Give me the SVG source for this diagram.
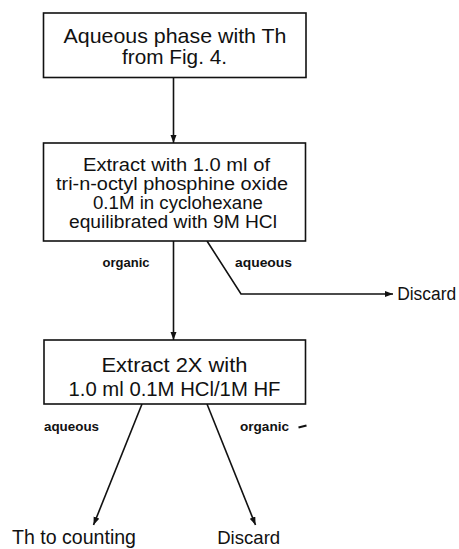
<svg xmlns="http://www.w3.org/2000/svg" width="459" height="549" viewBox="0 0 459 549">
<style>
.box{fill:#fff;stroke:#111;stroke-width:1.6}
.t{font-family:"Liberation Sans",Arial,sans-serif;fill:#111;text-anchor:middle}
.lbl{font-family:"Liberation Sans",Arial,sans-serif;font-weight:bold;font-size:13.3px;fill:#111}
.c{fill:none;stroke:#111;stroke-width:1.6}
</style>
<defs>
<marker id="ah" markerUnits="userSpaceOnUse" markerWidth="9" markerHeight="7" refX="8" refY="3" orient="auto">
<path d="M0,0 L8,3 L0,6 z" fill="#111"/>
</marker>
</defs>
<rect width="459" height="549" fill="#fff"/>
<g id="connectors">
<path class="c" d="M173.5,77.5 V143" marker-end="url(#ah)"/>
<path class="c" d="M173.5,241 V340" marker-end="url(#ah)"/>
<path class="c" d="M207,241 L241,294 H393" marker-end="url(#ah)"/>
<path class="c" d="M142,404 L93.5,525" marker-end="url(#ah)"/>
<path class="c" d="M207,404 L255.5,525" marker-end="url(#ah)"/>
<text class="lbl" x="102.5" y="267" textLength="47" lengthAdjust="spacingAndGlyphs">organic</text>
<text class="lbl" x="235" y="267" textLength="57" lengthAdjust="spacingAndGlyphs">aqueous</text>
<text class="lbl" x="44" y="430.5" textLength="55" lengthAdjust="spacingAndGlyphs">aqueous</text>
<text class="lbl" x="240" y="430.5" textLength="49" lengthAdjust="spacingAndGlyphs">organic</text>
<path d="M298.5,427.5 L306.5,425.5" stroke="#111" stroke-width="2.2" fill="none"/>
</g>
<g id="node-start">
<rect class="box" x="43.5" y="13" width="262.5" height="64.5"/>
<text class="t" x="175" y="43" font-size="21" textLength="223" lengthAdjust="spacingAndGlyphs">Aqueous phase with Th</text>
<text class="t" x="174.5" y="64" font-size="21" textLength="105" lengthAdjust="spacingAndGlyphs">from Fig. 4.</text>
</g>
<g id="node-extract1">
<rect class="box" x="43.5" y="143" width="262" height="98"/>
<text class="t" x="176.5" y="170.7" font-size="17.5" textLength="187" lengthAdjust="spacingAndGlyphs">Extract with 1.0 ml of</text>
<text class="t" x="172" y="189.5" font-size="17.5" textLength="232" lengthAdjust="spacingAndGlyphs">tri-n-octyl phosphine oxide</text>
<text class="t" x="178" y="209" font-size="17.5" textLength="170" lengthAdjust="spacingAndGlyphs">0.1M in cyclohexane</text>
<text class="t" x="173" y="228.3" font-size="17.5" textLength="208" lengthAdjust="spacingAndGlyphs">equilibrated with 9M HCl</text>
</g>
<g id="node-extract2">
<rect class="box" x="44" y="340" width="261.5" height="64"/>
<text class="t" x="174.5" y="372.3" font-size="21" textLength="146" lengthAdjust="spacingAndGlyphs">Extract 2X with</text>
<text class="t" x="174.5" y="395.7" font-size="21" textLength="212" lengthAdjust="spacingAndGlyphs">1.0 ml 0.1M HCl/1M HF</text>
</g>
<g id="node-discard1">
<text class="t" x="426.7" y="299.5" font-size="18" textLength="59" lengthAdjust="spacingAndGlyphs">Discard</text>
</g>
<g id="node-counting">
<text class="t" x="74" y="544" font-size="19.5" textLength="124" lengthAdjust="spacingAndGlyphs">Th to counting</text>
</g>
<g id="node-discard2">
<text class="t" x="248.7" y="544" font-size="19" textLength="63" lengthAdjust="spacingAndGlyphs">Discard</text>
</g>
</svg>
